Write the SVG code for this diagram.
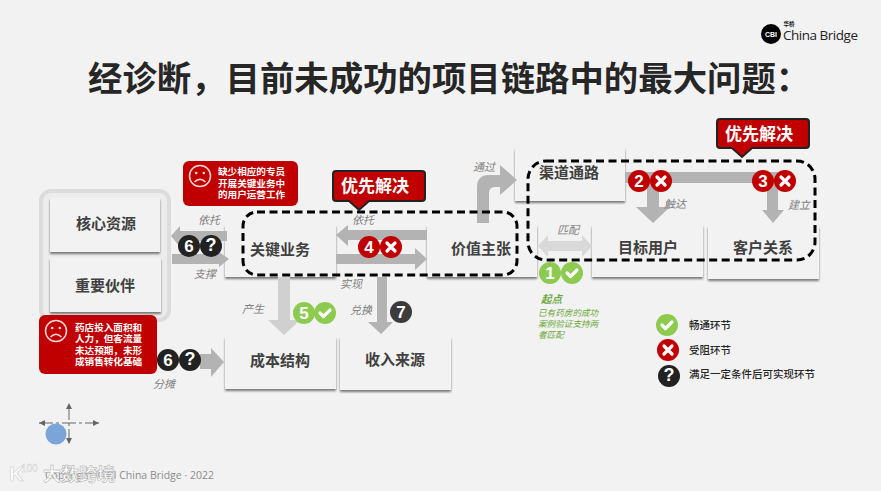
<svg xmlns="http://www.w3.org/2000/svg" width="881" height="491" viewBox="0 0 881 491">
<style>
text{font-family:"Noto Sans CJK SC","Liberation Sans",sans-serif}
.card{fill:#f2f2f2;filter:url(#sh)}
.cl{font-size:15px;font-weight:700;fill:#404040;text-anchor:middle}
.lab{font-size:11px;font-style:italic;fill:#7f7f7f}
.ar{fill:#b3b3b3}
.ar2{fill:#d0d0d0}
.dash{fill:none;stroke:#000;stroke-width:3;stroke-dasharray:8 4.5}
.num{font-size:17px;font-weight:700;fill:#fff;text-anchor:middle;font-family:"Liberation Sans",sans-serif}
.red{fill:#c00000}.grn{fill:#8ccb50}.blk{fill:#222}
.wt{font-size:9.600px;font-weight:700;fill:#fff}
.leg{font-size:10.500px;font-weight:500;fill:#262626}
.g{font-size:8.600px;font-style:italic;fill:#6fa83c}
.mk{fill:none;stroke:#fff;stroke-width:3.200;stroke-linecap:round;stroke-linejoin:round}
</style>
<defs>
<filter id="sh" x="-5%" y="-10%" width="110%" height="125%"><feDropShadow dx="0" dy="2" stdDeviation="1" flood-color="#000" flood-opacity=".5"/></filter>
<g id="x"><circle r="11" class="red"/><path class="mk" d="M-4-4 4 4M4-4-4 4"/></g>
<g id="c"><circle r="11" class="grn"/><path class="mk" d="M-5 0-1.500 3.500 5-3"/></g>
<g id="q"><circle r="11" class="blk"/><text y="5" class="num" style="font-size:18px">?</text></g>
<g id="sad"><circle r="10.500" fill="none" stroke="#f6d9d9" stroke-width="1.500"/><circle cx="-3.800" cy="-3" r="1.300" fill="#f6d9d9"/><circle cx="3.800" cy="-3" r="1.300" fill="#f6d9d9"/><path d="M-5.500 6Q0 .5 5.500 6" fill="none" stroke="#f6d9d9" stroke-width="1.500"/></g>
</defs>
<rect width="881" height="491" fill="#f2f2f2"/>
<g id="logo"><circle cx="771" cy="34" r="10" fill="#000"/><text x="771" y="37" font-size="7" font-weight="700" fill="#fff" text-anchor="middle" style="font-family:'Liberation Sans',sans-serif">CBI</text><text x="789" y="26" font-size="5.500" font-weight="700" fill="#111" text-anchor="middle">华桥</text><text x="783" y="40" font-size="13.500" fill="#222" textLength="75" style="font-family:'Open Sans',sans-serif">China Bridge</text></g>
<text id="title" x="88" y="91" font-size="34.400" font-weight="700" fill="#262626">经诊断，目前未成功的项目链路中的最大问题：</text>
<rect id="group" x="41" y="191" width="128" height="129" rx="10" fill="#ececec" stroke="#dcdcdc" stroke-width="4"/>
<g id="n-res"><rect class="card" x="50" y="198" width="110" height="54"/><text class="cl" x="106" y="229">核心资源</text></g>
<g id="n-par"><rect class="card" x="50" y="258" width="111" height="54"/><text class="cl" x="105" y="291">重要伙伴</text></g>
<g id="n-act"><rect class="card" x="225" y="225" width="111" height="52"/><text class="cl" x="280" y="255">关键业务</text></g>
<g id="n-val"><rect class="card" x="427" y="225" width="110" height="52"/><text class="cl" x="481" y="254">价值主张</text></g>
<g id="n-chn"><rect class="card" x="515" y="148" width="110" height="53"/><text class="cl" x="569" y="178">渠道通路</text></g>
<g id="n-usr"><rect class="card" x="592" y="225" width="111" height="52"/><text class="cl" x="648" y="253">目标用户</text></g>
<g id="n-rel"><rect class="card" x="708" y="226" width="111" height="53"/><text class="cl" x="763" y="253">客户关系</text></g>
<g id="n-cost"><rect class="card" x="225" y="337" width="111" height="52"/><text class="cl" x="280" y="366">成本结构</text></g>
<g id="n-rev"><rect class="card" x="340" y="337" width="111" height="53"/><text class="cl" x="395" y="365">收入来源</text></g>
<g id="connectors">
<path class="ar" d="M171 236 180 226V231H227V241H180V247Z"/>
<path class="ar" d="M172 254H219V252L229 259 219 267V264H172Z"/>
<path class="ar" d="M200 354H211V348L224 362 211 377V369H200Z"/>
<path class="ar" d="M336 235 348 225V230H427V240H348V246Z"/>
<path class="ar" d="M336 254H415V248L427 259 415 270V264H336Z"/>
<path class="ar" d="M477 223V187Q477 175 489 175H500V165L517 180 500 195V187H495Q489 187 489 193V223Z"/>
<path class="ar" d="M377 277H387V322H393L381 334 368 322H377Z"/>
<path class="ar2" d="M278 277H290V320H300L284 335 268 320H278Z"/>
<path class="ar" d="M625 172H778V183H659V207H670L653 223 636 207H647V183H625Z"/>
<path class="ar" d="M767 183H778V210H784L773 223 762 210H767Z"/>
<path fill="#d9d9d9" d="M538 246 548 235V241H582V235L592 246 582 257V251H548V257Z"/>
</g>
<rect class="dash" x="243" y="212" width="274" height="63" rx="14"/>
<rect class="dash" x="528" y="161" width="287" height="99" rx="18"/>
<g id="callout1"><path d="M336 171H422Q425 171 425 174V198Q425 201 422 201H369L359 210 349 201H336Q333 201 333 198V174Q333 171 336 171Z" fill="#c00000" stroke="#222" stroke-width="2"/><text x="341" y="192" font-size="17" font-weight="700" fill="#fff">优先解决</text></g>
<g id="callout2"><path d="M720 119H806Q809 119 809 122V145Q809 148 806 148H752L742 157 732 148H720Q717 148 717 145V122Q717 119 720 119Z" fill="#c00000" stroke="#222" stroke-width="2"/><text x="725" y="140" font-size="17" font-weight="700" fill="#fff">优先解决</text></g>
<g id="alert1"><rect x="183" y="161" width="115" height="45" rx="6" class="red"/><use href="#sad" x="200" y="176"/><text class="wt" x="218" y="175">缺少相应的专员</text><text class="wt" x="218" y="187">开展关键业务中</text><text class="wt" x="218" y="198">的用户运营工作</text></g>
<g id="alert2"><rect x="39" y="315" width="118" height="59" rx="6" class="red"/><use href="#sad" x="56" y="331"/><text class="wt" x="75" y="331">药店投入面积和</text><text class="wt" x="75" y="342">人力，但客流量</text><text class="wt" x="75" y="354">未达预期，未形</text><text class="wt" x="75" y="365">成销售转化基础</text></g>
<g id="labels">
<text class="lab" x="198" y="224">依托</text>
<text class="lab" x="194" y="278">支撑</text>
<text class="lab" x="352" y="224">依托</text>
<text class="lab" x="340" y="288">实现</text>
<text class="lab" x="242" y="313">产生</text>
<text class="lab" x="350" y="314">兑换</text>
<text class="lab" x="473" y="171">通过</text>
<text class="lab" x="664" y="208">触达</text>
<text class="lab" x="788" y="209">建立</text>
<text class="lab" x="557" y="234">匹配</text>
<text class="lab" x="153" y="388">分摊</text>
</g>
<g id="badges">
<circle cx="189" cy="246" r="11" class="blk"/><text class="num" x="189" y="252">6</text><use href="#q" x="211" y="246"/>
<circle cx="168" cy="360" r="11" class="blk"/><text class="num" x="168" y="366">6</text><use href="#q" x="190" y="360"/>
<circle cx="369" cy="247" r="11" class="red"/><text class="num" x="369" y="253">4</text><use href="#x" x="391" y="247"/>
<circle cx="304" cy="313" r="11" class="grn"/><text class="num" x="304" y="319">5</text><use href="#c" x="325" y="313"/>
<circle cx="401" cy="312" r="11" fill="#3c3c3c"/><text class="num" x="401" y="318">7</text>
<circle cx="639" cy="181" r="11" class="red"/><text class="num" x="639" y="187">2</text><use href="#x" x="661" y="181"/>
<circle cx="763" cy="181" r="11" class="red"/><text class="num" x="763" y="187">3</text><use href="#x" x="785" y="181"/>
<circle cx="550" cy="273" r="11" class="grn"/><text class="num" x="550" y="279">1</text><use href="#c" x="572" y="273"/>
</g>
<g id="start"><text x="541" y="303" font-size="10.500" font-weight="700" font-style="italic" fill="#6fa83c">起点</text><text class="g" x="538" y="316">已有药房的成功</text><text class="g" x="538" y="327">案例验证支持两</text><text class="g" x="538" y="338">者匹配</text></g>
<g id="legend"><use href="#c" x="667" y="325"/><text class="leg" x="689" y="329">畅通环节</text><use href="#x" x="668" y="350"/><text class="leg" x="689" y="354">受阻环节</text><use href="#q" x="669" y="376"/><text class="leg" x="689" y="378">满足一定条件后可实现环节</text></g>
<g id="compass" stroke="#666" stroke-width="1" fill="#666"><path d="M69 406V444M39 423H99" fill="none" stroke-dasharray="14 3 3 3"/><path stroke="none" d="M69 403 72 409H66ZM69 444 72 438H66ZM39 423 45 420V426ZM99 423 93 420V426Z"/><circle cx="56" cy="434" r="10.500" fill="#7ba4d8" stroke="none"/></g>
<text id="footer" x="45" y="479" font-size="10.500" fill="#8c8c8c" textLength="169" style="font-family:'Open Sans',sans-serif">Copyright © BI China Bridge · 2022</text>
<g id="watermark"><text x="9" y="481" font-size="20" font-weight="700" fill="#fff" stroke="#ccc" stroke-width=".6" style="font-family:'Liberation Sans',sans-serif">K</text><text x="21" y="472" font-size="10" fill="#fff" stroke="#ccc" stroke-width=".4" style="font-family:'Liberation Sans',sans-serif">100</text><text x="43" y="481" font-size="18" font-weight="700" fill="#fff" fill-opacity=".8" stroke="#aaa" stroke-width=".5">大数跨境</text></g>
</svg>
